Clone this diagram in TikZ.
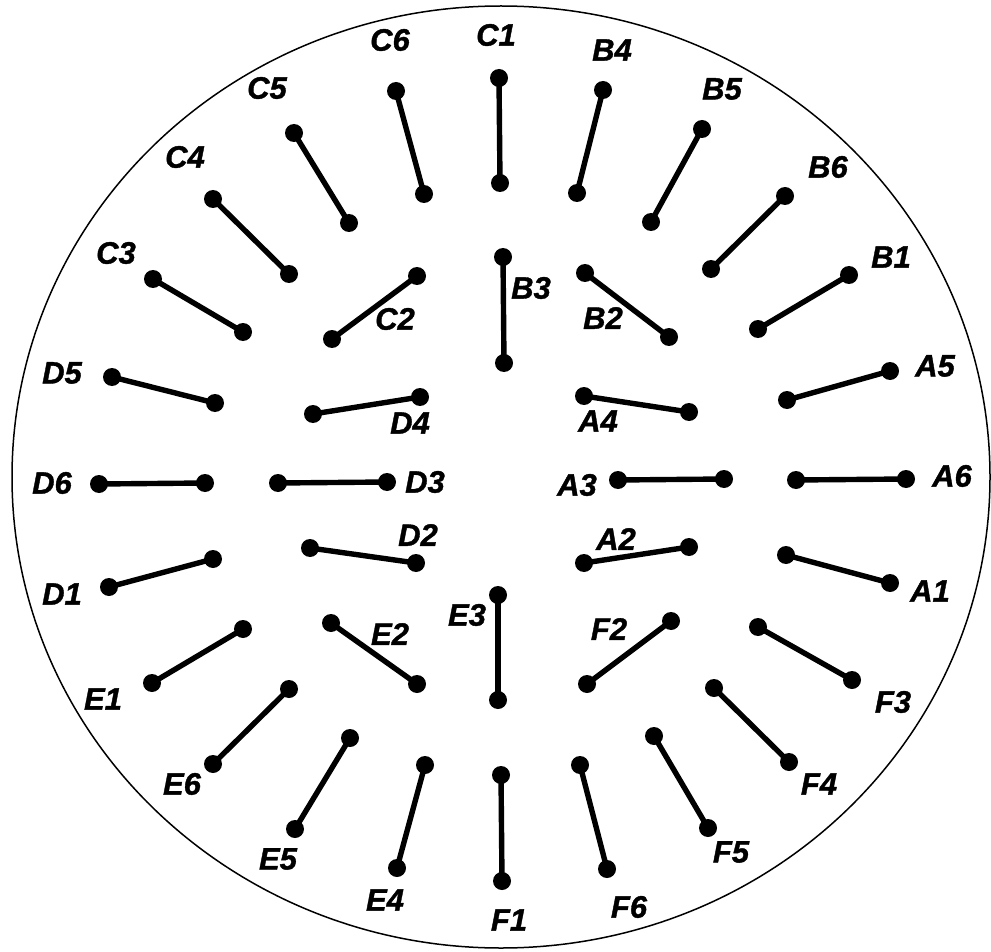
\documentclass[tikz,border=0pt]{standalone}
\usepackage{fontspec}
\setmainfont{Liberation Sans}
\newfontfamily\labfont[BoldItalicFeatures={FakeBold=1.2}]{Liberation Sans}
\begin{document}
\begin{tikzpicture}[x=1pt,y=-1pt,
  dot/.style={circle,fill=black,inner sep=0pt,minimum size=18pt},
  seg/.style={line width=5.4pt,black},
  lab/.style={font=\labfont\fontsize{31}{31}\selectfont\bfseries\itshape,inner sep=0pt}]
\useasboundingbox (0,0) rectangle (991,952);
\draw[line width=1.5pt] (501,477) ellipse [x radius=489pt, y radius=471pt];
\foreach \n/\xa/\ya/\xb/\yb/\lx/\ly in {
  C1/499/78/500/183/496/35,
  B4/603/90/577/193/612/50,
  B5/702/129/651/222/722/89,
  B6/785/196/711/269/828/167,
  B1/849/275/758/329/891/257,
  A5/890/371/787/400/935/366,
  A6/906/479/796/480/952/476,
  A1/890/583/786/555/930/591,
  F3/852/680/758/627/893/702,
  F4/789/762/714/688/819/784,
  F5/708/828/654/736/731/852,
  F6/607/869/580/765/629/907,
  F1/502/881/501/775/509/920,
  E4/397/868/425/765/385/900,
  E5/295/829/350/738/278/859,
  E6/213/764/289/689/182/784,
  E1/152/683/243/629/103/699,
  D1/109/587/213/559/62/594,
  D6/99/484/205/483/52/483,
  D5/112/377/215/403/62/373,
  C3/153/279/243/332/116/253,
  C4/213/199/289/274/185/157,
  C5/294/133/349/223/267/88,
  C6/396/91/424/194/390/40,
  B3/503/257/504/363/531/288,
  B2/585/273/669/337/603/318,
  C2/417/276/332/339/395/319,
  D4/420/397/313/414/410/423,
  A4/584/396/689/412/598/421,
  D3/278/483/387/482/425/482,
  A3/618/480/724/479/577/485,
  D2/310/548/416/563/418/535,
  A2/584/563/689/547/616/539,
  E2/331/623/417/684/390/634,
  F2/671/621/587/684/609/629,
  E3/498/595/498/700/467/615}
{
  \node[dot] (\n a) at (\xa,\ya) {};
  \node[dot] (\n b) at (\xb,\yb) {};
  \draw[seg] (\n a.center) -- (\n b.center);
  \node[lab] (\n l) at (\lx,\ly) {\n};
}
\end{tikzpicture}
\end{document}
